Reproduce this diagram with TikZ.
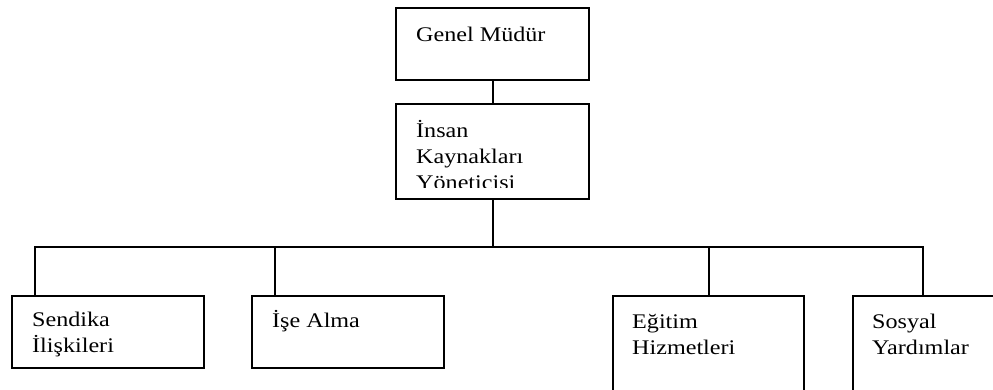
\documentclass[tikz,border=0pt]{standalone}
\usepackage{fontspec}
\setmainfont{Liberation Serif}[FakeStretch=1.16]
\usetikzlibrary{positioning}
\tikzset{
  unit/.style={draw,line width=2pt,anchor=north west,inner sep=0pt,minimum width=192pt},
  lbl/.style={anchor=base west,inner sep=0pt,align=left,font=\fontsize{20.8}{26}\selectfont},
  link/.style={line width=2pt},
}
\begin{document}
\begin{tikzpicture}[x=1pt,y=-1pt]
\useasboundingbox (0,0) rectangle (993,389);
\clip (0,0) rectangle (993,389);
\pgfmathsetmacro{\bary}{247}
% boxes
\node[unit,minimum width=193pt,minimum height=72pt] (gm) at (395,7) {};
\node[unit,minimum width=193pt,minimum height=95pt] (ik) at (395,103) {};
\node[unit,minimum height=72pt] (sendika) at (11,295) {};
\node[unit,minimum height=72pt] (isealma) at (251,295) {};
\node[unit,minimum width=191pt,minimum height=120pt] (egitim) at (612,295) {};
\node[unit,minimum height=120pt] (sosyal) at (852,295) {};
% texts (base = last line)
\node[lbl] (gmtxt) at ([xshift=21pt,yshift=-34pt]gm.north west) {Genel Müdür};
\begin{scope}
\clip (395,103) rectangle (588,187);
\node[lbl] (iktxt) at ([xshift=21pt,yshift=-86pt]ik.north west) {İnsan\\Kaynakları\\Yöneticisi};
\end{scope}
\node[lbl] (sendikatxt) at ([xshift=21pt,yshift=-57pt]sendika.north west) {Sendika\\İlişkileri};
\node[lbl] (isealmatxt) at ([xshift=21pt,yshift=-32pt]isealma.north west) {İşe Alma};
\node[lbl] (egitimtxt) at ([xshift=20pt,yshift=-59pt]egitim.north west) {Eğitim\\Hizmetleri};
\node[lbl] (sosyaltxt) at ([xshift=20pt,yshift=-59pt]sosyal.north west) {Sosyal\\Yardımlar};
% connectors
\coordinate (hub) at (ik.south |- 0,\bary);
\coordinate (t1) at ([xshift=24pt]sendika.north west);
\coordinate (t2) at ([xshift=24pt]isealma.north west);
\coordinate (t4) at ([xshift=71pt]sosyal.north west);
\draw[link] (gm.south) -- (ik.north);
\draw[link] (ik.south) -- (hub);
\draw[link] (t1) |- (hub) -| (t4);
\draw[link] (t2) -- (t2 |- hub);
\draw[link] (egitim.north) -- (egitim.north |- hub);
\end{tikzpicture}
\end{document}
